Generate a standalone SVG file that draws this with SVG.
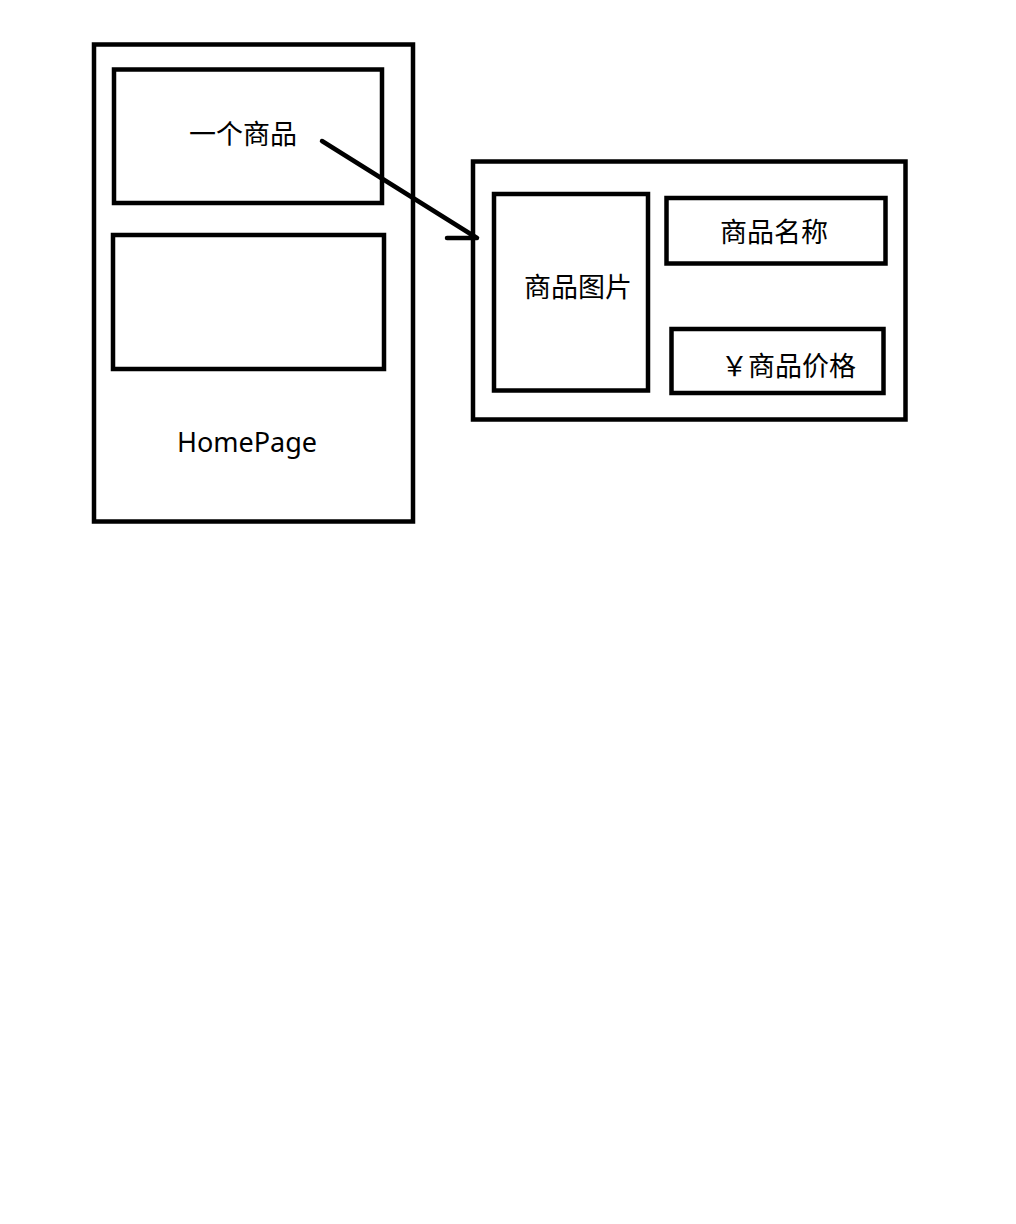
<svg xmlns="http://www.w3.org/2000/svg" width="1016" height="1224" viewBox="0 0 1016 1224">
<style>
.box{fill:none;stroke:#000;stroke-width:4.5}
.cjk{font-family:"Noto Sans CJK SC","Noto Sans",sans-serif;font-size:27px;fill:#000}
.lat{font-family:"Noto Sans","Liberation Sans",sans-serif;font-size:27px;fill:#000}
.conn{fill:none;stroke:#000;stroke-width:4.5;stroke-linecap:round;stroke-linejoin:round}
</style>
<rect width="1016" height="1224" fill="#fff"/>
<g id="homepage">
<rect class="box" x="94" y="44.5" width="319" height="477"/>
<text class="lat" x="247" y="452" text-anchor="middle">HomePage</text>
</g>
<g id="item1">
<rect class="box" x="114" y="69.5" width="268" height="133.5"/>
<text class="cjk" x="189" y="144">一个商品</text>
</g>
<g id="item2">
<rect class="box" x="113" y="235" width="271" height="134"/>
</g>
<g id="itemDetail">
<rect class="box" x="473" y="161.5" width="432.5" height="258"/>
</g>
<g id="itemImage">
<rect class="box" x="494" y="194" width="154" height="196.5"/>
<text class="cjk" x="524" y="297">商品图片</text>
</g>
<g id="itemName">
<rect class="box" x="666.5" y="198" width="219" height="65.5"/>
<text class="cjk" x="720" y="242">商品名称</text>
</g>
<g id="itemPrice">
<rect class="box" x="671.5" y="329" width="212" height="64"/>
<text class="cjk" x="721" y="376">￥商品价格</text>
</g>
<g id="connectors">
<path class="conn" d="M322,141 L477,238 L447,238"/>
</g>
</svg>
